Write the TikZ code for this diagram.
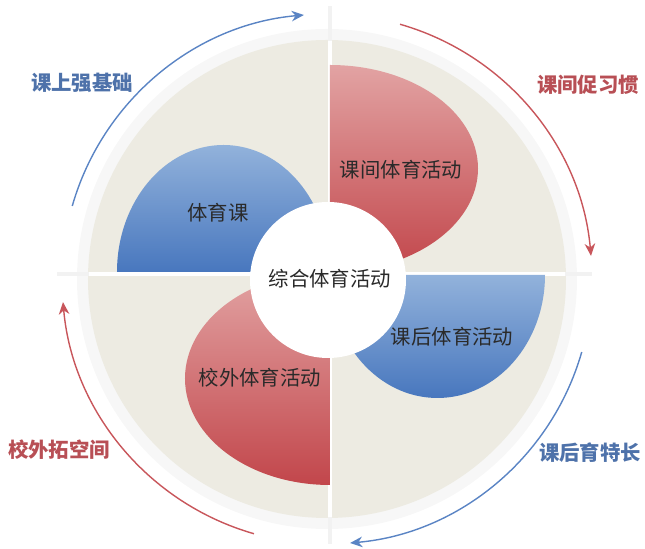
\documentclass[tikz,border=0pt]{standalone}
\usepackage{fontspec}
\newfontfamily\cjk{Noto Sans CJK SC}
\usetikzlibrary{arrows.meta}

\definecolor{beige}{HTML}{EDEBE2}
\definecolor{bluelight}{HTML}{92B2DB}
\definecolor{bluedark}{HTML}{4877BE}
\definecolor{redlight}{HTML}{E2A3A3}
\definecolor{reddark}{HTML}{C2464B}
\definecolor{arrowblue}{HTML}{5A84C4}
\definecolor{arrowred}{HTML}{C8565B}
\definecolor{textblue}{HTML}{4E72AA}
\definecolor{textred}{HTML}{B84F55}
\definecolor{textdark}{HTML}{2A2A2A}

\tikzset{
  inner label/.style={font=\cjk\fontsize{11.6}{14}\selectfont, text=textdark},
  outer label/.style={font=\cjk\bfseries\fontsize{11.6}{14}\selectfont},
  cycle arrow/.style={line width=0.8pt, -{Stealth[length=7pt,width=6pt]}},
  divider/.style={line width=2pt, black!5}
}

\begin{document}
\begin{tikzpicture}
    \useasboundingbox (-6.54,-5.4) rectangle (6.36,5.58);

    % Halo and background disk
    \fill[black!3] (0,0) circle (5.0);
    \fill[beige] (0,0) circle (4.78);

    % Quarter dividers
    \draw[divider] (0.06,5.45) -- (0.06,-5.3);
    \draw[divider] (-5.4,0.1) -- (5.3,0.1);
    \draw[line width=2pt, white] (0.06,4.76) -- (0.06,-4.76);
    \draw[line width=2pt, white] (-4.76,0.1) -- (4.76,0.1);

    % Petals
    \shade[top color=bluelight, bottom color=bluedark]
        (-4.2,0.14) arc[start angle=180, end angle=0, x radius=2.13, y radius=2.54] -- cycle;
    \shade[top color=redlight, bottom color=reddark]
        (0.06,4.28) arc[start angle=90, end angle=-90, x radius=2.96, y radius=2.07] -- cycle;
    \shade[top color=bluelight, bottom color=bluedark]
        (0.06,0.08) arc[start angle=180, end angle=360, x radius=2.15, y radius=2.46] -- cycle;
    \shade[top color=redlight, bottom color=reddark]
        (0.06,0.14) arc[start angle=90, end angle=270, x radius=2.9, y radius=2.13] -- cycle;

    % Centre
    \fill[white] (0.02,-0.02) circle (1.56);
    \node[inner label] (center) at (0.06,0) {综合体育活动};

    % Petal labels
    \node[inner label] (pe) at (-2.18,1.32) {体育课};
    \node[inner label] (break) at (1.48,2.18) {课间体育活动};
    \node[inner label] (after) at (2.5,-1.16) {课后体育活动};
    \node[inner label] (outside) at (-1.34,-1.98) {校外体育活动};

    % Cycle arrows (clockwise)
    \foreach \q/\col in {2/arrowblue, 1/arrowred, 0/arrowblue, -1/arrowred}
        \draw[cycle arrow, \col] ({\q*90-16}:5.3)
            arc[start angle={\q*90-16}, end angle={\q*90-85}, radius=5.3];

    % Outer labels
    \node[outer label, text=textblue] (basis) at (-4.9,3.92) {课上强基础};
    \node[outer label, text=textred] (habit) at (5.22,3.88) {课间促习惯};
    \node[outer label, text=textblue] (talent) at (5.26,-3.48) {课后育特长};
    \node[outer label, text=textred] (space) at (-5.36,-3.42) {校外拓空间};
\end{tikzpicture}
\end{document}
